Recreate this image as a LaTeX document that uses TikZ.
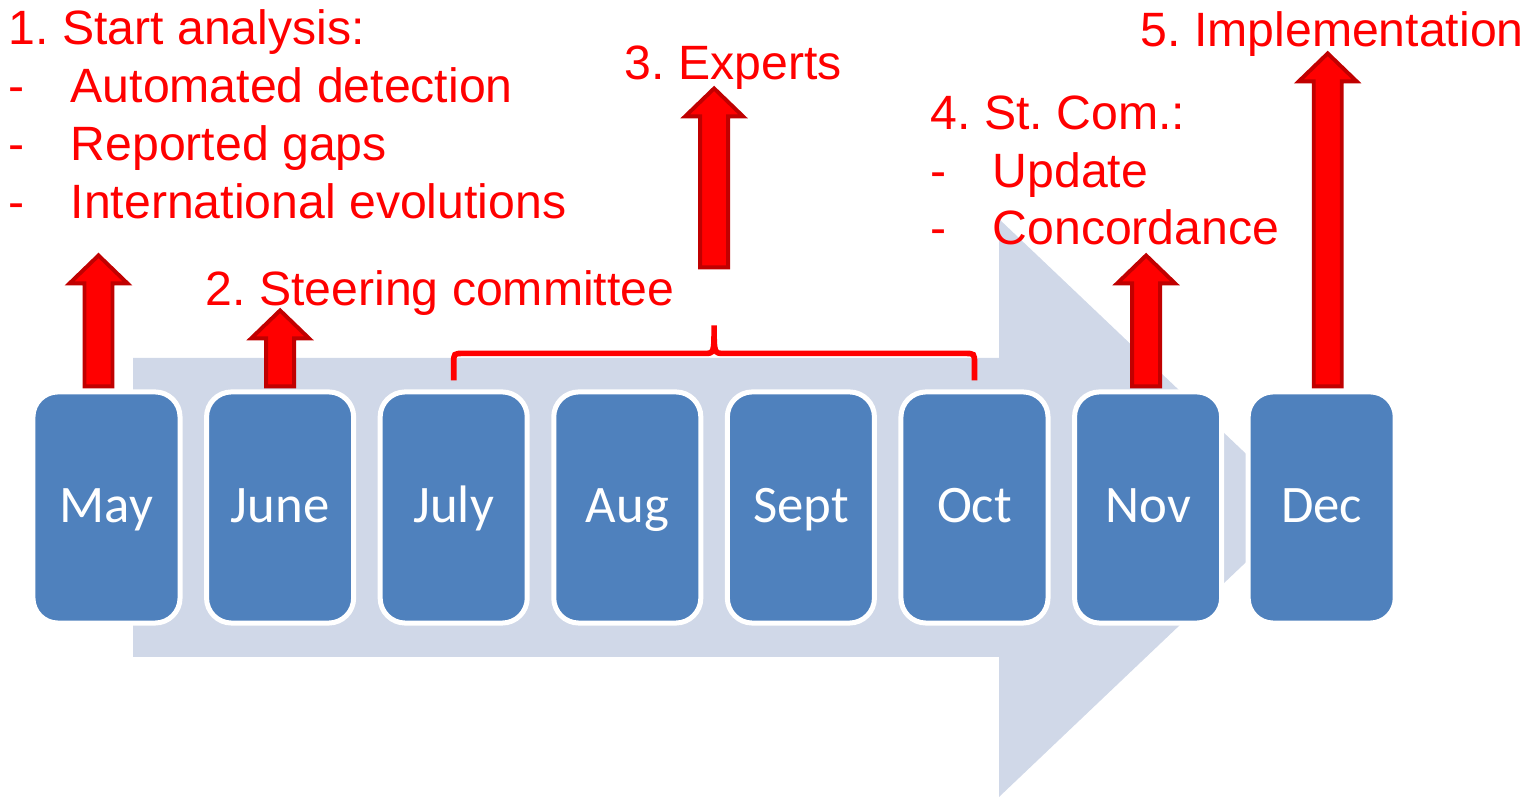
\documentclass[tikz,border=0pt]{standalone}
\usepackage{fontspec}
\setmainfont{Liberation Sans}
\newfontfamily\monthfont{Carlito}
\usetikzlibrary{calc}
\definecolor{boxblue}{RGB}{79,129,189}
\definecolor{flowgray}{RGB}{208,216,232}
\definecolor{dred}{RGB}{192,0,0}
\tikzset{pics/uparrow/.style={code={
    \draw[redbody] (-14,0) -- (-14,{28-#1}) -- (-29,{28-#1}) -- (0,{-#1})
        -- (29,{28-#1}) -- (14,{28-#1}) -- (14,0) -- cycle;}}}
\frenchspacing

\begin{document}
\begin{tikzpicture}[x=0.01cm, y=-0.01cm,
         month/.style={
         % The shape:
         rectangle, rounded corners=0.25cm,
         minimum width=1.47cm, minimum height=2.31cm,
         % The border and filling
         fill=boxblue, draw=white, line width=0.05cm,
         % Font
         text=white, font=\monthfont\fontsize{15}{18}\selectfont,
         text height=0.35cm, text depth=0.04cm, inner sep=0pt},
         note/.style={anchor=base west, inner sep=0pt, text=red,
         font=\fontsize{13.7}{16}\selectfont},
         redbody/.style={fill=red, draw=dred, line width=1.1pt},
         brace/.style={draw=red, line width=1.6pt}]
    \useasboundingbox (0,0) rectangle (1535,801);
    % big background arrow
    \fill[flowgray] (133,358) -- (999,358) -- (999,219) -- (1303,508)
        -- (999,797) -- (999,657) -- (133,657) -- cycle;
    % months
    \foreach \n/\m [count=\i from 0] in {may/May,june/June,july/July,aug/Aug,sept/Sept,oct/Oct,nov/Nov,dec/Dec} {
        \node[month] (\n) at ({106.5+173.6*\i},507.5) {\m};
    };
    % brace over July -- Oct
    \coordinate (bl) at ($(july.north)+(0,-9)$);
    \coordinate (br) at ($(oct.north)+(0,-9)$);
    \coordinate (peak) at ($(bl)!0.5!(br)+(0,-55)$);
    \draw[brace] (bl) -- ($(bl)+(0,-17)$) .. controls ($(bl)+(0,-27)$) .. ($(bl)+(10,-27)$)
        -- ($(peak)+(-10,28)$) .. controls ($(peak)+(0,28)$) .. (peak)
        .. controls ($(peak)+(0,28)$) .. ($(peak)+(10,28)$)
        -- ($(br)+(-10,-27)$) .. controls ($(br)+(0,-27)$) .. ($(br)+(0,-17)$) -- (br);
    % red arrows
    \pic at ($(may.north)+(-8,-3)$) {uparrow=131};
    \pic at ($(june.north)+(0,-3)$) {uparrow=76};
    \pic at ($(peak)+(0,-58)$) {uparrow=179};
    \pic at ($(nov.north)+(-2,-3)$) {uparrow=131};
    \pic at ($(dec.north)+(6,-3)$) {uparrow=333};
    % labels
    \node[note] (start) at (8,45) {1. Start analysis:};
    \node[note] (auto) at (8,103) {\makebox[0.62cm][l]{-}Automated detection};
    \node[note] (gaps) at (8,161) {\makebox[0.62cm][l]{-}Reported gaps};
    \node[note] (intl) at (8,219) {\makebox[0.62cm][l]{-}International evolutions};
    \node[note] (steer) at (205,306) {2. Steering committee};
    \node[note] (experts) at (624,80) {3. Experts};
    \node[note] (stcom) at (930,130) {4. St. Com.:};
    \node[note] (update) at (930,188) {\makebox[0.62cm][l]{-}Update};
    \node[note] (conc) at (930,245) {\makebox[0.62cm][l]{-}Concordance};
    \node[note] (impl) at (1140,47) {5. Implementation};
\end{tikzpicture}
\end{document}
